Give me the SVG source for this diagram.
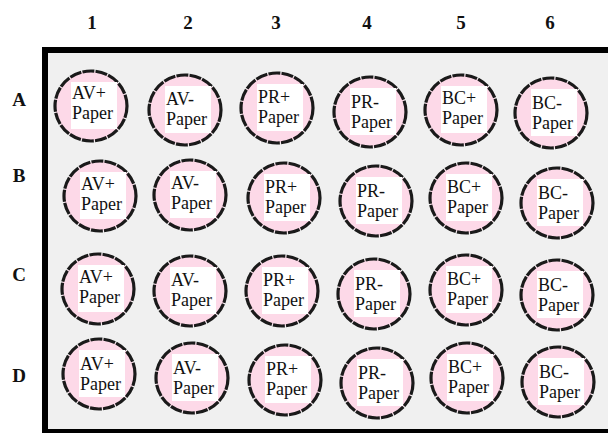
<svg xmlns="http://www.w3.org/2000/svg" width="608" height="433" viewBox="0 0 608 433">
<style>
.hdr{font-family:"Liberation Serif","DejaVu Serif",serif;font-weight:bold;font-size:19px;fill:#111;text-anchor:middle}
.well{fill:#fdd9e8;stroke:#1a1a1a;stroke-width:3.2;stroke-dasharray:12 1.2}
.box{fill:#ffffff}
.lbl{font-family:"Liberation Serif","DejaVu Serif",serif;font-size:18px;fill:#111}
</style>
<defs>
<g id="w"><ellipse class="well" cx="0" cy="0" rx="36" ry="35"/><rect class="box" x="-20" y="-24" width="46" height="47"/></g>
</defs>
<rect width="608" height="433" fill="#ffffff"/>
<g id="plate"><rect x="45" y="50" width="600" height="382" fill="#f0f0f0" stroke="#000" stroke-width="6"/></g>
<g id="headers">
<text class="hdr" x="92" y="29">1</text>
<text class="hdr" x="188" y="29">2</text>
<text class="hdr" x="276" y="29">3</text>
<text class="hdr" x="367" y="29">4</text>
<text class="hdr" x="461" y="29">5</text>
<text class="hdr" x="550" y="29">6</text>
<text class="hdr" x="19" y="106">A</text>
<text class="hdr" x="19" y="182">B</text>
<text class="hdr" x="19" y="281">C</text>
<text class="hdr" x="19" y="382">D</text>
</g>
<g id="connectors"/>
<g id="A1" transform="translate(91,106)"><use href="#w"/><text class="lbl" x="-19" y="-7">AV+</text><text class="lbl" x="-19" y="13">Paper</text></g>
<g id="A2" transform="translate(185,110)"><use href="#w"/><text class="lbl" x="-19" y="-5">AV-</text><text class="lbl" x="-19" y="15">Paper</text></g>
<g id="A3" transform="translate(277,108)"><use href="#w"/><text class="lbl" x="-19" y="-5">PR+</text><text class="lbl" x="-19" y="15">Paper</text></g>
<g id="A4" transform="translate(370,112)"><use href="#w"/><text class="lbl" x="-19" y="-4">PR-</text><text class="lbl" x="-19" y="16">Paper</text></g>
<g id="A5" transform="translate(461,110)"><use href="#w"/><text class="lbl" x="-19" y="-6">BC+</text><text class="lbl" x="-19" y="14">Paper</text></g>
<g id="A6" transform="translate(551,113)"><use href="#w"/><text class="lbl" x="-19" y="-4">BC-</text><text class="lbl" x="-19" y="16">Paper</text></g>
<g id="B1" transform="translate(100,196)"><use href="#w"/><text class="lbl" x="-19" y="-6">AV+</text><text class="lbl" x="-19" y="14">Paper</text></g>
<g id="B2" transform="translate(190,195)"><use href="#w"/><text class="lbl" x="-19" y="-6">AV-</text><text class="lbl" x="-19" y="14">Paper</text></g>
<g id="B3" transform="translate(284,198)"><use href="#w"/><text class="lbl" x="-19" y="-5">PR+</text><text class="lbl" x="-19" y="15">Paper</text></g>
<g id="B4" transform="translate(376,201)"><use href="#w"/><text class="lbl" x="-19" y="-4">PR-</text><text class="lbl" x="-19" y="16">Paper</text></g>
<g id="B5" transform="translate(466,198)"><use href="#w"/><text class="lbl" x="-19" y="-5">BC+</text><text class="lbl" x="-19" y="15">Paper</text></g>
<g id="B6" transform="translate(557,203)"><use href="#w"/><text class="lbl" x="-19" y="-4">BC-</text><text class="lbl" x="-19" y="16">Paper</text></g>
<g id="C1" transform="translate(98,289)"><use href="#w"/><text class="lbl" x="-19" y="-6">AV+</text><text class="lbl" x="-19" y="14">Paper</text></g>
<g id="C2" transform="translate(190,291)"><use href="#w"/><text class="lbl" x="-19" y="-5">AV-</text><text class="lbl" x="-19" y="15">Paper</text></g>
<g id="C3" transform="translate(282,291)"><use href="#w"/><text class="lbl" x="-19" y="-5">PR+</text><text class="lbl" x="-19" y="15">Paper</text></g>
<g id="C4" transform="translate(374,294)"><use href="#w"/><text class="lbl" x="-19" y="-4">PR-</text><text class="lbl" x="-19" y="16">Paper</text></g>
<g id="C5" transform="translate(466,290)"><use href="#w"/><text class="lbl" x="-19" y="-5">BC+</text><text class="lbl" x="-19" y="15">Paper</text></g>
<g id="C6" transform="translate(557,295)"><use href="#w"/><text class="lbl" x="-19" y="-4">BC-</text><text class="lbl" x="-19" y="16">Paper</text></g>
<g id="D1" transform="translate(99,374)"><use href="#w"/><text class="lbl" x="-19" y="-4">AV+</text><text class="lbl" x="-19" y="16">Paper</text></g>
<g id="D2" transform="translate(192,378)"><use href="#w"/><text class="lbl" x="-19" y="-4">AV-</text><text class="lbl" x="-19" y="16">Paper</text></g>
<g id="D3" transform="translate(285,380)"><use href="#w"/><text class="lbl" x="-19" y="-5">PR+</text><text class="lbl" x="-19" y="15">Paper</text></g>
<g id="D4" transform="translate(377,383)"><use href="#w"/><text class="lbl" x="-19" y="-4">PR-</text><text class="lbl" x="-19" y="16">Paper</text></g>
<g id="D5" transform="translate(467,378)"><use href="#w"/><text class="lbl" x="-19" y="-5">BC+</text><text class="lbl" x="-19" y="15">Paper</text></g>
<g id="D6" transform="translate(558,382)"><use href="#w"/><text class="lbl" x="-19" y="-4">BC-</text><text class="lbl" x="-19" y="16">Paper</text></g>
</svg>
